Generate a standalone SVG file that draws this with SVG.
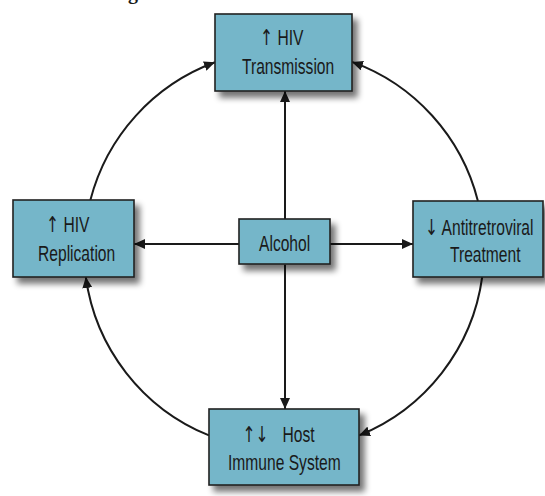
<svg xmlns="http://www.w3.org/2000/svg" width="545" height="496" viewBox="0 0 545 496">
<style>
.box{fill:#74b6c9;stroke:#222;stroke-width:1.6;filter:url(#sh)}
.t{font-family:"Liberation Sans",Arial,sans-serif;font-size:22px;fill:#1a1a1a}
.a{font-family:"DejaVu Sans",sans-serif}
.c{fill:none;stroke:#1a1a1a;stroke-width:2;marker-end:url(#ah)}
</style>
<defs>
<filter id="sh" x="-20%" y="-20%" width="150%" height="160%">
<feGaussianBlur in="SourceAlpha" stdDeviation="3"/>
<feOffset dx="5" dy="6" result="b"/>
<feComponentTransfer><feFuncA type="linear" slope="0.55"/></feComponentTransfer>
<feMerge><feMergeNode/><feMergeNode in="SourceGraphic"/></feMerge>
</filter>
<marker id="ah" markerUnits="userSpaceOnUse" markerWidth="12" markerHeight="10" refX="11" refY="5" orient="auto">
<path d="M0,0 L11,5 L0,10 Z" fill="#1a1a1a"/>
</marker>
</defs>
<rect width="545" height="496" fill="#fff"/>
<text x="128" y="-1.5" font-family="Liberation Serif,serif" font-weight="bold" font-size="20" fill="#1a1a1a">g</text>
<g id="connectors">
<path class="c" d="M285,219 L285,91"/>
<path class="c" d="M285,264.5 L285,409"/>
<path class="c" d="M239,244 L134,244"/>
<path class="c" d="M330,244 L413,244"/>
<path class="c" d="M90.4,200 A200,200 0 0 1 215,62.3"/>
<path class="c" d="M477.9,201 A200,200 0 0 0 352,61.9"/>
<path class="c" d="M482.2,277 A200,200 0 0 1 359,435.4"/>
<path class="c" d="M209,435.4 A200,200 0 0 1 85.8,277"/>
</g>
<g id="transmission">
<rect class="box" x="215" y="14" width="137" height="77"/>
<text class="t" transform="translate(260,45) scale(0.71,1)"><tspan class="a">↑</tspan> HIV</text>
<text class="t" transform="translate(242,73.5) scale(0.71,1)">Transmission</text>
</g>
<g id="replication">
<rect class="box" x="13" y="200" width="121" height="77"/>
<text class="t" transform="translate(46,232) scale(0.71,1)"><tspan class="a">↑</tspan> HIV</text>
<text class="t" transform="translate(38,260.5) scale(0.71,1)">Replication</text>
</g>
<g id="alcohol">
<rect class="box" x="239" y="219" width="91" height="45"/>
<text class="t" transform="translate(259,251) scale(0.71,1)">Alcohol</text>
</g>
<g id="treatment">
<rect class="box" x="413" y="201" width="130" height="76"/>
<text class="t" transform="translate(425,235) scale(0.71,1)"><tspan class="a">↓</tspan> Antitretroviral</text>
<text class="t" transform="translate(450,261.5) scale(0.71,1)">Treatment</text>
</g>
<g id="immune">
<rect class="box" x="209" y="409" width="150" height="76"/>
<text class="t" transform="translate(242.5,441.5) scale(0.71,1)"><tspan class="a">↑↓</tspan><tspan dx="13.5"> Host</tspan></text>
<text class="t" transform="translate(228,470) scale(0.71,1)">Immune System</text>
</g>
</svg>
